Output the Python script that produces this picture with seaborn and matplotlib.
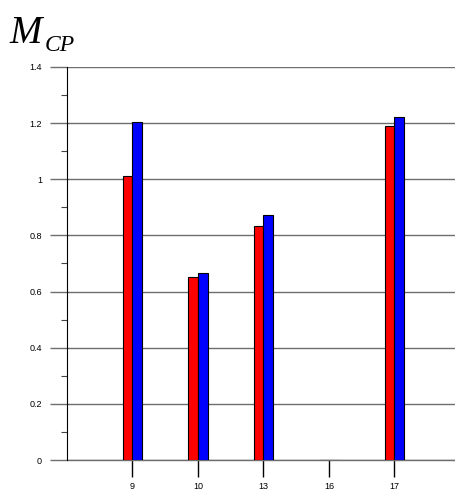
import pandas as pd
import matplotlib
matplotlib.use('Agg')
import matplotlib.pyplot as plt
import seaborn as sns
from matplotlib.ticker import MultipleLocator

# chart values
categories = ['9', '10', '13', '16', '17']
series_a = [1.011, 0.652, 0.834, 0.0, 1.189]   # red
series_b = [1.205, 0.665, 0.873, 0.0, 1.221]   # blue
series_names = ['A', 'B']

df = pd.DataFrame({
    'cat': categories * 2,
    'value': series_a + series_b,
    'series': [series_names[0]] * len(categories) + [series_names[1]] * len(categories),
})

sns.set_style('white')
plt.rcParams['font.family'] = ['Liberation Sans', 'DejaVu Sans']
plt.rcParams['text.color'] = 'black'
plt.rcParams['xtick.color'] = 'black'
plt.rcParams['ytick.color'] = 'black'

fig = plt.figure(figsize=(4.56, 4.94), dpi=100)
ax = fig.add_axes([67 / 456, 34 / 494, 1 - 67 / 456, 393 / 494])

sns.barplot(data=df, x='cat', y='value', hue='series', order=categories,
            palette=['#ff0000', '#0000ff'], saturation=1, width=0.3, gap=0,
            edgecolor='black', linewidth=0.8, legend=False, ax=ax, zorder=3)

ax.set_ylim(0, 1.4)
ax.set_xlim(-1, 4.94)
ax.yaxis.set_minor_locator(MultipleLocator(0.1))
ax.set_yticks([0, 0.2, 0.4, 0.6, 0.8, 1.0, 1.2, 1.4])
ax.set_yticklabels(['0', '0.2', '0.4', '0.6', '0.8', '1', '1.2', '1.4'])
ax.grid(axis='y', color='#6e6e6e', linewidth=1.0, zorder=0)
ax.axhline(0, color='#6e6e6e', linewidth=1.0, zorder=2, clip_on=False)
ax.set_xlabel('')
ax.set_ylabel('')

for s in ['top', 'right', 'bottom']:
    ax.spines[s].set_visible(False)
ax.spines['left'].set_color('black')
ax.spines['left'].set_linewidth(0.8)

ax.tick_params(axis='y', which='major', left=True, length=12, width=1.0,
               color='#6e6e6e', labelsize=6.5, pad=6)
ax.tick_params(axis='y', which='minor', left=True, length=4, width=0.8, color='#444444')
ax.tick_params(axis='x', which='major', bottom=True, length=12, width=1.0,
               color='black', labelsize=6.5, pad=4)

fig.text(9 / 456, 1 - 43 / 494, 'M', fontsize=28, style='italic',
         family='Liberation Serif', color='black')
fig.text(45 / 456, 1 - 51 / 494, 'CP', fontsize=17, style='italic',
         family='Liberation Serif', color='black')

fig.savefig('out.png', dpi=100)
